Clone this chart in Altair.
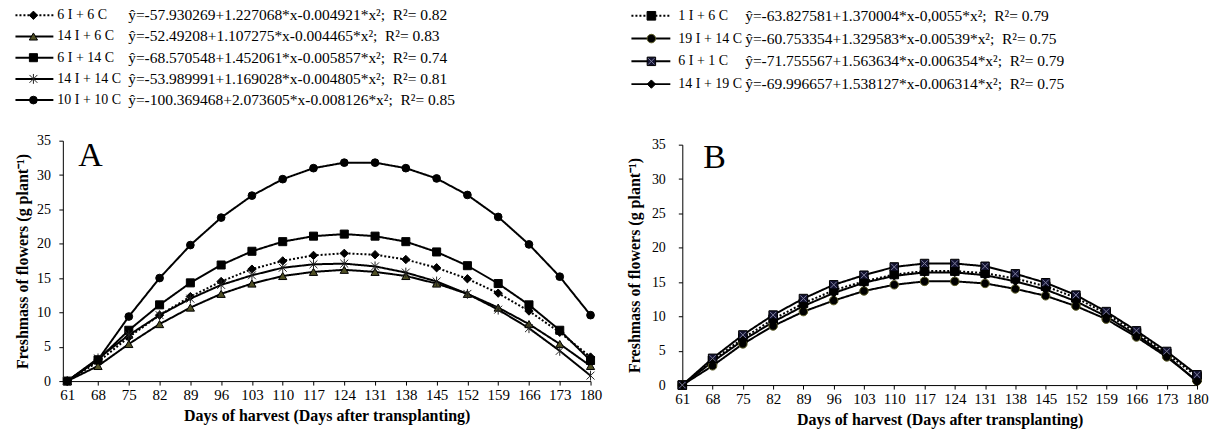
import altair as alt
import pandas as pd

SERIF = "Liberation Serif"

days = [61, 68, 75, 82, 89, 96, 103, 110, 117, 124, 131, 138, 145, 152, 159, 166, 173, 180]
y_ticks = [0, 5, 10, 15, 20, 25, 30, 35]

# ---- Panel A: fresh mass of flowers per treatment ----
a_names = ["6 I + 6 C", "14 I + 6 C", "6 I + 14 C", "14 I + 14 C", "10 I + 10 C"]
a_6i6c = [0, 2.8, 6.4, 9.6, 12.3, 14.5, 16.3, 17.5, 18.3, 18.6, 18.4, 17.7, 16.5, 14.9, 12.8, 10.2, 7.1, 3.5]
a_14i6c = [0, 2.2, 5.4, 8.3, 10.7, 12.7, 14.2, 15.3, 15.9, 16.2, 15.9, 15.3, 14.2, 12.7, 10.7, 8.3, 5.4, 2.2]
a_6i14c = [0, 3.1, 7.4, 11.1, 14.3, 16.9, 18.9, 20.3, 21.1, 21.4, 21.1, 20.3, 18.8, 16.8, 14.2, 11.1, 7.4, 3.0]
a_14i14c = [0, 3.3, 6.7, 9.6, 12.0, 14.0, 15.4, 16.5, 17.0, 17.1, 16.7, 15.8, 14.5, 12.7, 10.4, 7.7, 4.4, 0.8]
a_10i10c = [0, 3.1, 9.4, 15.0, 19.8, 23.8, 27.0, 29.4, 31.0, 31.8, 31.8, 31.0, 29.5, 27.1, 23.9, 19.9, 15.2, 9.6]
a_series = [a_6i6c, a_14i6c, a_6i14c, a_14i14c, a_10i10c]
a_eqs = [
    "ŷ=-57.930269+1.227068*x-0.004921*x²; \u00a0R²= 0.82",
    "ŷ=-52.49208+1.107275*x-0.004465*x²; \u00a0R²= 0.83",
    "ŷ=-68.570548+1.452061*x-0.005857*x²; \u00a0R²= 0.74",
    "ŷ=-53.989991+1.169028*x-0.004805*x²; \u00a0R²= 0.81",
    "ŷ=-100.369468+2.073605*x-0.008126*x²; \u00a0R²= 0.85",
]

# ---- Panel B ----
b_names = ["1 I + 6 C", "19 I + 14 C", "6 I + 1 C", "14 I + 19 C"]
b_1i6c = [0, 3.6, 6.8, 9.6, 11.9, 13.8, 15.1, 16.1, 16.6, 16.6, 16.3, 15.5, 14.4, 12.7, 10.4, 7.6, 4.6, 1.2]
b_19i14c = [0, 2.8, 6.0, 8.6, 10.7, 12.3, 13.7, 14.6, 15.1, 15.1, 14.8, 14.0, 13.0, 11.5, 9.6, 7.0, 4.1, 0.6]
b_6i1c = [0, 3.9, 7.3, 10.2, 12.6, 14.6, 16.0, 17.2, 17.7, 17.7, 17.3, 16.2, 14.9, 13.1, 10.7, 7.9, 4.9, 1.5]
b_14i19c = [0, 3.4, 6.5, 9.2, 11.5, 13.4, 14.9, 15.9, 16.4, 16.4, 16.0, 15.1, 13.9, 12.2, 10.0, 7.3, 4.3, 0.5]
b_series = [b_1i6c, b_19i14c, b_6i1c, b_14i19c]
b_eqs = [
    "ŷ=-63.827581+1.370004*x-0,0055*x²; \u00a0R²= 0.79",
    "ŷ=-60.753354+1.329583*x-0.00539*x²; \u00a0R²= 0.75",
    "ŷ=-71.755567+1.563634*x-0.006354*x²; \u00a0R²= 0.79",
    "ŷ=-69.996657+1.538127*x-0.006314*x²; \u00a0R²= 0.75",
]

# Marker styles
ASTERISK = "M-1,-1L1,1M-1,1L1,-1M0,-1.25L0,1.25"
XMARK = "M-0.75,-0.75L0.75,0.75M-0.75,0.75L0.75,-0.75"
XMARK_COLOR = "#7c7c9c"
DOT = [2, 2]
SOLID = [1, 0]

a_style = dict(
    shapes=["diamond", "triangle-up", "square", ASTERISK, "circle"],
    fills=["#000000", "#4f4f24", "#000000", "#000000", "#000000"],
    strokes=["#000000", "#000000", "#000000", "#222222", "#000000"],
    dashes=[DOT, SOLID, SOLID, SOLID, SOLID],
    sizes=[70, 60, 80, 80, 75],
)
b_style = dict(
    shapes=["square", "circle", "square", "diamond"],
    fills=["#000000", "#000000", "#121230", "#000000"],
    strokes=["#000000", "#5e5e2a", "#000000", "#000000"],
    dashes=[DOT, SOLID, SOLID, SOLID],
    sizes=[75, 70, 95, 70],
)


def long_table(names, series):
    rows = []
    for name, vals in zip(names, series):
        for d, v in zip(days, vals):
            rows.append({"day": d, "value": v, "series": name})
    return pd.DataFrame(rows)


def legend_table(names, eqs):
    return pd.DataFrame({"series": names, "row": list(range(len(names))),
                         "label": names, "eq": eqs})


def panel(names, series, eqs, style, letter, geo, overlay=None):
    df = long_table(names, series)
    leg = legend_table(names, eqs)
    n = len(names)

    dash = alt.StrokeDash("series:N", scale=alt.Scale(domain=names, range=style["dashes"]), legend=None)
    shape = alt.Shape("series:N", scale=alt.Scale(domain=names, range=style["shapes"]), legend=None)
    fill = alt.Fill("series:N", scale=alt.Scale(domain=names, range=style["fills"]), legend=None)
    stroke = alt.Stroke("series:N", scale=alt.Scale(domain=names, range=style["strokes"]), legend=None)
    size = alt.Size("series:N", scale=alt.Scale(domain=names, range=style["sizes"]), legend=None)

    xscale = alt.Scale(domain=geo["xdomain"], nice=False, zero=False)
    yscale = alt.Scale(domain=[0, 35], nice=False, zero=True, range=geo["yrange"])
    x_axis = alt.Axis(values=days, format="d", tickSize=4, labelPadding=2,
                      labelFontSize=15, labelFlush=False, labelOverlap=False,
                      title="Days of harvest (Days after transplanting)",
                      titleFontSize=16, titleFontWeight="bold",
                      titleY=35, titleBaseline="middle")
    x_enc = alt.X("day:Q", scale=xscale, axis=x_axis)
    y_plain = alt.Y("value:Q", scale=yscale, axis=None)

    lines = alt.Chart(df).mark_line(strokeWidth=2, color="black").encode(
        x=x_enc,
        y=alt.Y("value:Q", scale=yscale,
                axis=alt.Axis(values=y_ticks, tickSize=4, labelPadding=geo["ylabpad"],
                              labelFontSize=14, labelFlush=False,
                              title="Freshmass of flowers (g plant⁻¹)",
                              titleFontSize=16, titleFontWeight="bold",
                              titleX=geo["ytitlex"], titleBaseline="middle")),
        strokeDash=dash,
        detail="series:N",
    )

    points = alt.Chart(df).mark_point(filled=True, strokeWidth=1, opacity=1).encode(
        x=x_enc, y=y_plain, shape=shape, fill=fill, stroke=stroke, size=size,
    )

    layers = [lines, points]
    if overlay is not None:
        layers.append(alt.Chart(df).transform_filter(alt.datum.series == overlay).mark_point(
            shape=XMARK, filled=False, stroke=XMARK_COLOR, strokeWidth=1, size=70, opacity=1
        ).encode(x=x_enc, y=y_plain))

    # Legend block above the plot: one row per treatment
    ly = alt.Y("row:Q", scale=alt.Scale(domain=[0, n - 1], range=geo["legrange"]), axis=None)
    lx = geo["legx"]
    leg_line = alt.Chart(leg).mark_rule(strokeWidth=2, color="black").encode(
        x=alt.value(lx[0]), x2=alt.value(lx[1]), y=ly, strokeDash=dash)
    leg_pt = alt.Chart(leg).mark_point(filled=True, strokeWidth=1, opacity=1).encode(
        x=alt.value(lx[2]), y=ly, shape=shape, fill=fill, stroke=stroke, size=size)
    leg_layers = [leg_line, leg_pt]
    if overlay is not None:
        leg_layers.append(alt.Chart(leg).transform_filter(alt.datum.series == overlay).mark_point(
            shape=XMARK, filled=False, stroke=XMARK_COLOR, strokeWidth=1, size=70, opacity=1
        ).encode(x=alt.value(lx[2]), y=ly))
    leg_lab = alt.Chart(leg).mark_text(align="left", baseline="middle", fontSize=14,
                                       font=SERIF, color="black").encode(
        x=alt.value(lx[3]), y=ly, text="label:N")
    leg_eq = alt.Chart(leg).mark_text(align="left", baseline="middle", fontSize=15.5,
                                      font=SERIF, color="black").encode(
        x=alt.value(lx[4]), y=ly, text="eq:N")

    tag = alt.Chart(pd.DataFrame({"t": [letter]})).mark_text(
        align="left", baseline="alphabetic", fontSize=34, font=SERIF, color="black"
    ).encode(x=alt.value(geo["tag"][0]), y=alt.value(geo["tag"][1]), text="t:N")

    return alt.layer(*layers, *leg_layers, leg_lab, leg_eq, tag).resolve_scale(
        y="independent"
    ).properties(width=geo["width"], height=geo["height"])


geo_a = dict(xdomain=[60, 180], width=529, height=241, yrange=[241, 0],
             ylabpad=8.5, ytitlex=-40,
             legrange=[-125.7, -40.7], legx=[-47.5, -9.5, -29.5, -5.5, 65.5], tag=[15.5, 25])
geo_b = dict(xdomain=[61, 180], width=516, height=245, yrange=[245, 4],
             ylabpad=13, ytitlex=-47.5,
             legrange=[-125.2, -56.7], legx=[-51, -12, -31, -4, 63], tag=[21, 27])

chart_a = panel(a_names, a_series, a_eqs, a_style, "A", geo_a)
chart_b = panel(b_names, b_series, b_eqs, b_style, "B", geo_b, overlay="6 I + 1 C")

chart = alt.hconcat(chart_a, chart_b, spacing=24).resolve_scale(
    shape="independent", fill="independent", stroke="independent",
    strokeDash="independent", size="independent", x="independent", y="independent"
).properties(
    padding={"left": 14, "top": 7.5, "right": 0, "bottom": 0}
).configure(font=SERIF).configure_view(stroke=None).configure_axis(
    grid=False, domainColor="black", tickColor="black", labelColor="black",
    titleColor="black", labelFont=SERIF, titleFont=SERIF, domainWidth=1, tickWidth=1
)

chart.save("out.html", embed_options={"renderer": "svg", "actions": False})
